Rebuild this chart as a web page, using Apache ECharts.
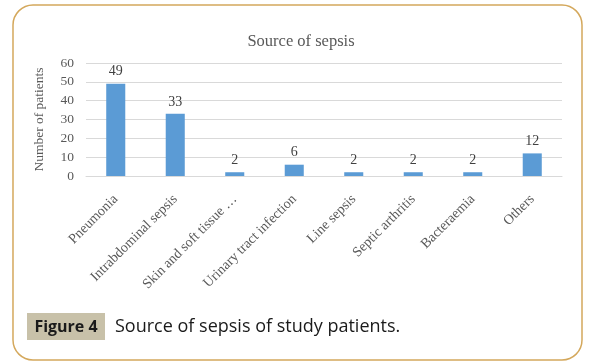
<!DOCTYPE html>
<html><head><meta charset="utf-8">
<script src="https://cdn.jsdelivr.net/npm/echarts@6/dist/echarts.min.js"></script>
<style>html,body{margin:0;padding:0;background:#fff;}#c{width:591px;height:364px;}</style>
</head><body><div id="c"></div>
<script>
const categories = ['Pneumonia','Intrabdominal sepsis','Skin and soft tissue …','Urinary tract infection','Line sepsis','Septic arthritis','Bacteraemia','Others'];
const patients = [49,33,2,6,2,2,2,12];
const yTicks = [0,10,20,30,40,50,60];
const chartTitle = 'Source of sepsis';
const yName = 'Number of patients';
const figLabel = 'Figure 4';
const figCaption = 'Source of sepsis of study patients.';

const chart = echarts.init(document.getElementById('c'), null, {renderer:'canvas'});
const serif = '"Liberation Serif", "DejaVu Serif", serif';
chart.setOption({
  animation:false,
  title:{text:chartTitle,left:296,top:28,textAlign:'center',textStyle:{fontFamily:serif,fontSize:16.5,fontWeight:'normal',color:'#595959'}},
  grid:{left:86,right:29,top:63,bottom:188,containLabel:false},
  xAxis:{type:'category',data:categories,
    axisLine:{lineStyle:{color:'#d9d9d9'}},axisTick:{show:false},
    axisLabel:{rotate:45,interval:0,margin:21,fontFamily:serif,fontSize:14,color:'#595959'}},
  yAxis:{type:'value',min:yTicks[0],max:yTicks[yTicks.length-1],interval:10,
    name:yName,nameLocation:'middle',nameGap:40,nameRotate:90,
    nameTextStyle:{fontFamily:serif,fontSize:13.5,color:'#595959'},
    axisLine:{show:false},axisTick:{show:false},
    axisLabel:{fontFamily:serif,fontSize:13.5,color:'#595959',margin:12},
    splitLine:{lineStyle:{color:'#d9d9d9'}}},
  series:[{type:'bar',data:patients,barWidth:'32%',itemStyle:{color:'#5b9bd5'},
    label:{show:true,position:'top',distance:5,fontFamily:serif,fontSize:14,color:'#404040'}}],
  graphic:[
    {type:'rect',shape:{x:13,y:5,width:569,height:355,r:20},style:{fill:'none',stroke:'#d4a85c',lineWidth:1.5},z:-1},
    {type:'rect',shape:{x:27,y:313,width:78,height:27},style:{fill:'#c8c1a9'}},
    {type:'text',x:66,y:327,style:{text:figLabel,font:'bold 16px "Open Sans", sans-serif',fill:'#1a1a1a',textAlign:'center',textVerticalAlign:'middle'}},
    {type:'text',x:115,y:327,style:{text:figCaption,font:'18px "Open Sans", sans-serif',fill:'#1a1a1a',textAlign:'left',textVerticalAlign:'middle'}}
  ]
});
</script></body></html>
